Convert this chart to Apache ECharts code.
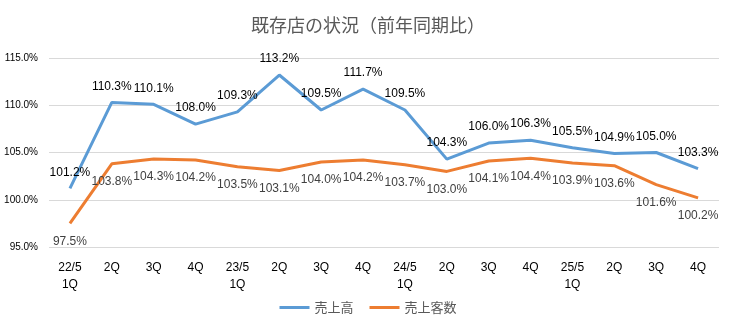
<!DOCTYPE html>
<html><head><meta charset="utf-8">
<script src="https://cdn.jsdelivr.net/npm/echarts@6/dist/echarts.min.js"></script>
<style>html,body{margin:0;padding:0;background:#fff}#c{width:736px;height:325px}</style>
</head><body><div id="c"></div>
<script>
const categories = ['22/5\n1Q','2Q','3Q','4Q','23/5\n1Q','2Q','3Q','4Q','24/5\n1Q','2Q','3Q','4Q','25/5\n1Q','2Q','3Q','4Q'];
const salesName = '売上高';
const customersName = '売上客数';
const sales = [101.2,110.3,110.1,108.0,109.3,113.2,109.5,111.7,109.5,104.3,106.0,106.3,105.5,104.9,105.0,103.3];
const customers = [97.5,103.8,104.3,104.2,103.5,103.1,104.0,104.2,103.7,103.0,104.1,104.4,103.9,103.6,101.6,100.2];
const yTicks = {min:95, max:115, interval:5};

const chart = echarts.init(document.getElementById('c'), null, {renderer:'canvas'});
const lblFont = 'Liberation Sans, Arial, sans-serif';
chart.setOption({
  animation:false,
  backgroundColor:'#fff',
  title:{text:'既存店の状況（前年同期比）', left:'center', top:11,
    textStyle:{fontFamily:'Noto Sans CJK JP', fontSize:18, fontWeight:'normal', color:'#595959'}},
  grid:{left:49, right:17, top:58, bottom:78},
  legend:{bottom:6, left:'center', itemWidth:30, itemHeight:3, itemGap:16,
    icon:'rect',
    textStyle:{fontFamily:'Noto Sans CJK JP', fontSize:13, color:'#595959'},
    data:[salesName, customersName]},
  xAxis:{type:'category', data:categories, boundaryGap:true,
    axisLine:{show:false}, axisTick:{show:false},
    axisLabel:{color:'#000', fontSize:12, fontFamily:lblFont, margin:12, lineHeight:17, interval:0}},
  yAxis:{type:'value', min:yTicks.min, max:yTicks.max, interval:yTicks.interval,
    axisLabel:{color:'#000', fontSize:10, fontFamily:lblFont, margin:11,
      formatter:v=>v.toFixed(1)+'%'},
    splitLine:{lineStyle:{color:'#d9d9d9', width:1}},
    axisLine:{show:false}, axisTick:{show:false}},
  series:[
    {name:salesName, type:'line', data:sales, showSymbol:true, symbol:'circle', symbolSize:0.1,
      lineStyle:{color:'#5b9bd5', width:3}, itemStyle:{color:'#5b9bd5'},
      label:{show:true, position:'top', distance:10, color:'#000', fontSize:12, fontFamily:lblFont,
        formatter:p=>p.value.toFixed(1)+'%'}},
    {name:customersName, type:'line', data:customers, showSymbol:true, symbol:'circle', symbolSize:0.1,
      lineStyle:{color:'#ed7d31', width:3}, itemStyle:{color:'#ed7d31'},
      label:{show:true, position:'bottom', distance:12, color:'#404040', fontSize:12, fontFamily:lblFont,
        formatter:p=>p.value.toFixed(1)+'%'}}
  ]
});
</script></body></html>
